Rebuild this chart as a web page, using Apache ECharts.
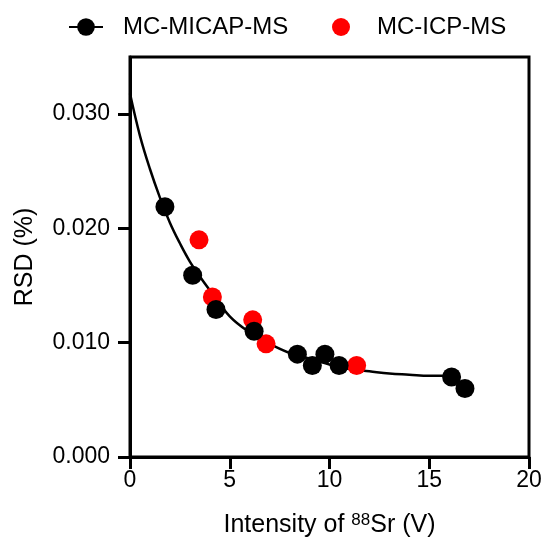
<!DOCTYPE html>
<html>
<head>
<meta charset="utf-8">
<script src="https://cdn.jsdelivr.net/npm/echarts@6/dist/echarts.min.js"></script>
<style>
html, body { margin: 0; padding: 0; background: #fff; }
#chart1 { width: 544px; height: 537px; }
</style>
</head>
<body>
<div id="chart1"></div>
<script>
// MC-MICAP-MS 测量点
var micapX = [1.75, 3.14, 4.31, 6.22, 8.39, 9.14, 9.77, 10.48, 16.12, 16.79];
var micapY = [0.0219, 0.0159, 0.0129, 0.0110, 0.0090, 0.0080, 0.0090, 0.0080, 0.0070, 0.0060];
// MC-ICP-MS 测量点
var icpX = [3.46, 4.13, 6.15, 6.82, 11.36];
var icpY = [0.0190, 0.0140, 0.0120, 0.0099, 0.0080];
// 拟合曲线
var fitX = [0, 0.5, 1, 1.5, 2, 2.5, 3, 3.5, 4, 5, 6, 7, 8, 9, 10, 11, 12, 13, 14, 15, 16.1];
var fitY = [0.0318, 0.0281, 0.0252, 0.0227, 0.0205, 0.0187, 0.0171, 0.0158, 0.0146, 0.0123, 0.0109, 0.0099, 0.0091,
            0.0086, 0.0081, 0.0077, 0.0075, 0.0073, 0.0072, 0.0071, 0.0071];
// 坐标轴刻度
var xTicks = [0, 5, 10, 15, 20];
var yTicks = [0, 0.01, 0.02, 0.03];

function pairs(xs, ys) {
    return xs.map(function (x, i) { return [x, ys[i]]; });
}

var font = 'Liberation Sans, Arial, sans-serif';

var myChart1 = echarts.init(document.getElementById('chart1'));
var option1 = {
    animation: false,
    textStyle: { fontFamily: font, color: '#000' },
    grid: {
        left: 130,
        right: 15,
        top: 57,
        bottom: 80,
        outerBoundsMode: 'none',
        show: true,
        borderColor: '#000',
        borderWidth: 3
    },
    legend: [
        {
            data: ['MC-MICAP-MS'],
            left: 68,
            top: 15,
            padding: 0,
            itemWidth: 34,
            itemHeight: 22,
            textStyle: { fontFamily: font, fontSize: 24, color: '#000', padding: [0, 0, 0, 15] }
        },
        {
            data: ['MC-ICP-MS'],
            left: 332,
            top: 15,
            padding: 0,
            itemWidth: 18,
            itemHeight: 18,
            textStyle: { fontFamily: font, fontSize: 24, color: '#000', padding: [0, 0, 0, 22] }
        }
    ],
    xAxis: {
        type: 'value',
        min: 0,
        max: 20,
        interval: 5,
        name: 'Intensity of {sup|88}Sr (V)',
        nameLocation: 'middle',
        nameGap: 55,
        nameTextStyle: {
            fontFamily: font,
            fontSize: 25,
            color: '#000',
            rich: {
                sup: { fontFamily: font, fontSize: 17, color: '#000', padding: [0, 0, 10, 0] }
            }
        },
        splitLine: { show: false },
        axisLine: { lineStyle: { color: '#000', width: 3 } },
        axisTick: { length: 12, lineStyle: { color: '#000', width: 3 }, customValues: xTicks },
        axisLabel: { fontFamily: font, fontSize: 23, color: '#000', margin: 12, customValues: xTicks }
    },
    yAxis: {
        type: 'value',
        min: 0,
        max: 0.035,
        interval: 0.005,
        name: 'RSD (%)',
        nameLocation: 'middle',
        nameGap: 92,
        nameTextStyle: { fontFamily: font, fontSize: 25, color: '#000' },
        splitLine: { show: false },
        axisLine: { lineStyle: { color: '#000', width: 3 } },
        axisTick: { length: 12, lineStyle: { color: '#000', width: 3 }, customValues: yTicks },
        axisLabel: {
            fontFamily: font,
            fontSize: 23,
            color: '#000',
            margin: 20,
            customValues: yTicks,
            formatter: function (v) { return v.toFixed(3); }
        }
    },
    series: [
        {
            name: 'MC-MICAP-MS',
            type: 'line',
            data: pairs(fitX, fitY),
            smooth: 0.4,
            symbol: 'circle',
            symbolSize: 18,
            showSymbol: false,
            itemStyle: { color: '#000' },
            lineStyle: { color: '#000', width: 2.5 },
            z: 1
        },
        {
            name: 'MC-ICP-MS',
            type: 'scatter',
            data: pairs(icpX, icpY),
            symbolSize: 19,
            itemStyle: { color: '#ff0000', opacity: 1 },
            z: 2
        },
        {
            name: 'MC-MICAP-MS',
            type: 'scatter',
            data: pairs(micapX, micapY),
            symbolSize: 19,
            itemStyle: { color: '#000', opacity: 1 },
            z: 3
        }
    ]
};
myChart1.setOption(option1);
</script>
</body>
</html>
